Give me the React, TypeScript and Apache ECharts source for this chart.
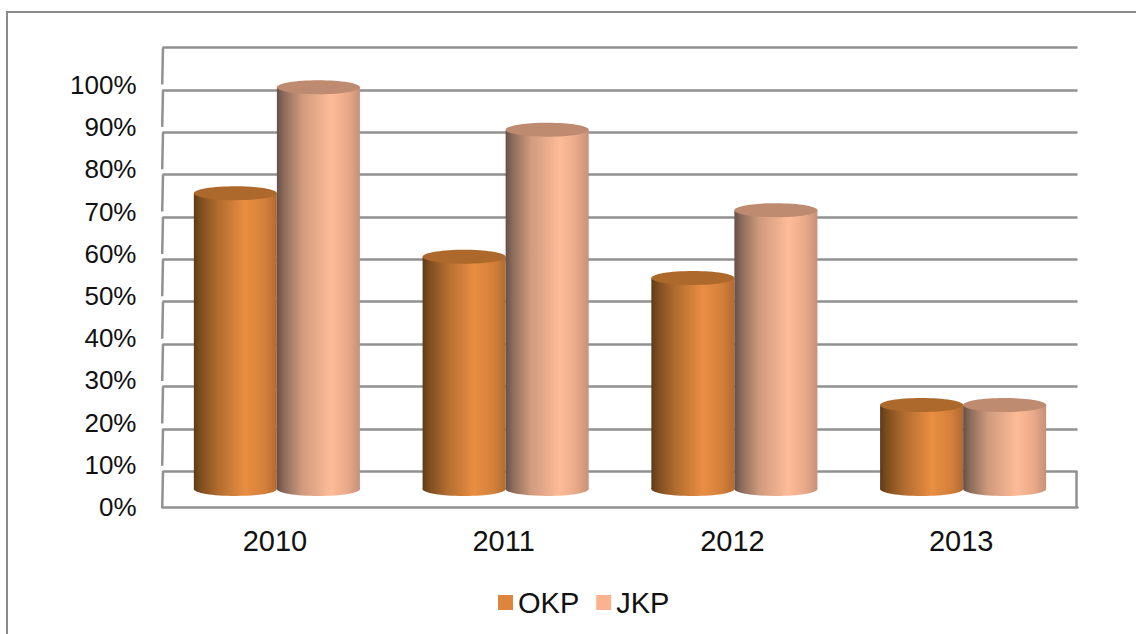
import React, { useEffect, useRef } from "react";
import * as echarts from "echarts";

const categories = ["2010", "2011", "2012", "2013"];
const okpValues = [75, 60, 55, 25];
const jkpValues = [100, 90, 71, 25];
const wallTicks = [10, 20, 30, 40, 50, 60, 70, 80, 90, 100, 110];

const FONT = '"Liberation Sans", Arial, sans-serif';
const GRID_COLOR = "#919191";
const GRID_WIDTH = 2.5;

type Shades = { legend: string; top: string; stops: [number, string][] };

const okpShades: Shades = {
  legend: "#DD843D",
  top: "#AD682C",
  stops: [
    [0, "#5f3b17"],
    [0.08, "#7d4d1f"],
    [0.3, "#b36d30"],
    [0.62, "#E98E42"],
    [0.85, "#d4803b"],
    [1, "#b26b2f"],
  ],
};

const jkpShades: Shades = {
  legend: "#FBB28F",
  top: "#BE8A70",
  stops: [
    [0, "#66504a"],
    [0.08, "#8a6a5a"],
    [0.3, "#cf9a7d"],
    [0.65, "#FEBB98"],
    [0.85, "#e9a988"],
    [1, "#c6917a"],
  ],
};

// One cylinder: a shaded body, a rounded foot and a flat darker lid.
function cylinderSeries(name: string, values: number[], side: -1 | 1, shades: Shades) {
  return {
    type: "custom",
    name,
    xAxisIndex: 1,
    yAxisIndex: 1,
    z: 5,
    clip: false,
    itemStyle: { color: shades.legend },
    data: values.map((v, i) => [i, v]),
    renderItem: (_params: any, api: any) => {
      const [cx0, yVal] = api.coord([api.value(0), api.value(1)]);
      const [, yZero] = api.coord([api.value(0), 0]);
      const band = api.size([1, 0])[0];
      const rx = band * 0.1815;
      const ry = 7;
      const cx = cx0 + side * rx;
      const topY = yVal - 2.5;
      const baseY = yZero - 24.5;
      const fill = { type: "linear", x: 0, y: 0, x2: 1, y2: 0, colorStops: shades.stops.map(([offset, color]) => ({ offset, color })) };
      return {
        type: "group",
        children: [
          { type: "ellipse", shape: { cx, cy: baseY, rx, ry }, style: { fill } },
          { type: "rect", shape: { x: cx - rx, y: topY, width: rx * 2, height: baseY - topY }, style: { fill } },
          { type: "ellipse", shape: { cx, cy: topY, rx, ry }, style: { fill: shades.top } },
        ],
      };
    },
  };
}

// Short uprights on the back wall, one under each gridline, plus the right end of the floor.
const wallSeries = {
  type: "custom",
  name: "wall",
  xAxisIndex: 1,
  yAxisIndex: 1,
  z: 2,
  clip: false,
  silent: true,
  data: wallTicks.map((v) => [0, v]),
  renderItem: (params: any, api: any) => {
    const v = api.value(1);
    const y = api.coord([0, v])[1];
    const left = params.coordSys.x;
    const lineStyle = { stroke: GRID_COLOR, lineWidth: GRID_WIDTH, fill: "none" };
    const children: any[] = [
      { type: "line", shape: { x1: left + 0.5, y1: y, x2: left - 0.3, y2: y + 37 }, style: lineStyle },
    ];
    if (v === 10) {
      const right = left + params.coordSys.width - 1;
      children.push({ type: "line", shape: { x1: right, y1: y, x2: right, y2: y + 36.5 }, style: lineStyle });
    }
    return { type: "group", children };
  },
};

export default function App() {
  const ref = useRef<HTMLDivElement>(null);

  useEffect(() => {
    document.body.style.margin = "0";
    const chart = echarts.init(ref.current!, undefined, { renderer: "svg" });
    chart.setOption({
      animation: false,
      backgroundColor: "#ffffff",
      textStyle: { fontFamily: FONT },
      grid: [
        { left: 162.5, right: 58.5, top: 85, height: 422 },
        { left: 162.5, right: 58.5, top: 47.5, height: 466 },
      ],
      xAxis: [
        {
          type: "category",
          gridIndex: 0,
          data: categories,
          axisTick: { show: false },
          axisLine: { show: true, lineStyle: { color: GRID_COLOR, width: GRID_WIDTH } },
          axisLabel: { color: "#111111", fontSize: 29, fontFamily: FONT, margin: 19, padding: [0, 4, 0, 0] },
        },
        {
          type: "category",
          gridIndex: 1,
          data: categories,
          show: false,
        },
      ],
      yAxis: [
        {
          type: "value",
          gridIndex: 0,
          min: 0,
          max: 100,
          interval: 10,
          axisLine: { show: false },
          axisTick: { show: false },
          splitLine: { show: false },
          axisLabel: { color: "#111111", fontSize: 26, fontFamily: FONT, margin: 26, padding: [0, 0, 4, 0], formatter: "{value}%" },
        },
        {
          type: "value",
          gridIndex: 1,
          min: 0,
          max: 110,
          interval: 10,
          axisLine: { show: false },
          axisTick: { show: false },
          axisLabel: { show: false },
          splitLine: { show: true, showMinLine: false, lineStyle: { color: GRID_COLOR, width: GRID_WIDTH } },
        },
      ],
      legend: {
        data: ["OKP", "JKP"],
        left: 498,
        top: 588,
        padding: 0,
        icon: "rect",
        itemWidth: 15,
        itemHeight: 15,
        itemGap: 17,
        textStyle: { color: "#111111", fontSize: 29, fontFamily: FONT },
      },
      graphic: [
        {
          type: "rect",
          silent: true,
          z: 0,
          shape: { x: 7, y: 12, width: 1300, height: 800 },
          style: { fill: "none", stroke: "#8a8a8a", lineWidth: 2 },
        },
      ],
      series: [
        wallSeries,
        cylinderSeries("OKP", okpValues, -1, okpShades),
        cylinderSeries("JKP", jkpValues, 1, jkpShades),
      ],
    });
    return () => chart.dispose();
  }, []);

  return <div ref={ref} style={{ width: 1136, height: 634 }} />;
}
